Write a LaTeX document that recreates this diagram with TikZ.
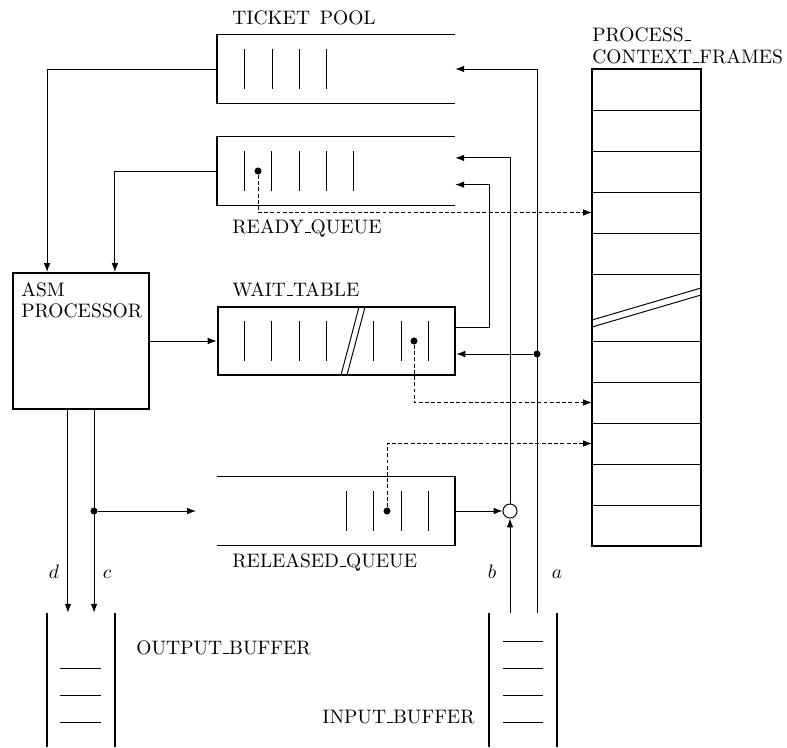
\documentclass[tikz,border=0pt]{standalone}
\usetikzlibrary{positioning,arrows.meta,calc}
\newcommand{\usc}{\leavevmode\kern.06em\vbox{\hrule width.3em}}
\tikzset{
  queue/.style ={minimum width=122pt, minimum height=35pt, inner sep=0pt},
  wall/.style  ={draw=black, line width=1pt},
  bar/.style   ={draw=black, line width=.5pt},
  proc/.style  ={draw=black, line width=1pt, minimum width=69.8pt, minimum height=69.8pt, inner sep=0pt},
  stack/.style ={minimum width=56pt, minimum height=244.7pt, inner sep=0pt},
  buf/.style   ={minimum width=34.9pt, minimum height=68.7pt, inner sep=0pt},
  dot/.style   ={circle, fill=black, inner sep=0pt, minimum size=3.6pt},
  merge/.style ={circle, draw=black, line width=.5pt, fill=white, inner sep=0pt, minimum size=7.2pt},
  ln/.style    ={draw=black, line width=.5pt, -{Latex[length=1.6mm,width=1.2mm]}},
  lnd/.style   ={ln, dash pattern=on 2pt off 1.2pt},
  tag/.style   ={inner sep=0pt, anchor=base west},
}

\begin{document}
\begin{tikzpicture}[x=0.513pt, y=-0.513pt]
  \useasboundingbox (0,0) rectangle (787,747);
  \node[queue] (pool) at (336,69) {};
  \node[queue] (ready) at (336,171) {};
  \node[queue,wall] (wait) at (336.5,341) {};
  \node[queue] (released) at (336,511) {};
  \draw[wall] (pool.north east) -- (pool.north west) -- (pool.south west) -- (pool.south east);
  \draw[wall] (ready.north east) -- (ready.north west) -- (ready.south west) -- (ready.south east);
  \draw[wall] (released.north west) -- (released.north east) -- (released.south east) -- (released.south west);
  \foreach \x in {244,272,299,326} \draw[bar] (\x,49) -- (\x,89);
  \foreach \x in {244,271,299,326,353} \draw[bar] (\x,151) -- (\x,191);
  \foreach \x in {244,271,299,326,373,401,428} \draw[bar] (\x,321) -- (\x,361);
  \foreach \x in {346,373,401,428} \draw[bar] (\x,491) -- (\x,531);
  \draw[bar] (341,375) -- (359,307) (347,375) -- (365,307);
  \node[tag] (poolLbl) at (232,25) {TICKET\enskip POOL};
  \node[tag] (readyLbl) at (232,233) {READY\usc QUEUE};
  \node[tag] (waitLbl) at (232,296) {WAIT\usc TABLE};
  \node[tag] (relLbl) at (232,567) {RELEASED\usc QUEUE};

  \node[proc] (asm) at (81,341) {};
  \node[tag] (asmLbl) at (21,296) {ASM};
  \node[tag] (asmLbl2) at (21,317) {PROCESSOR};

  \node[stack,wall] (frames) at (646.5,307.5) {};
  \foreach \y in {110,151,192,233,274,341,382,423,464,505} \draw[bar] (592,\y) -- (701,\y);
  \foreach \y [count=\i] in {69,110,151,192,233,341,382,423,464,505} \coordinate (slot\i) at (592,\y+20.5);
  \draw[bar] (592,320) -- (701,288) (592,327) -- (701,295);
  \node[tag] (framesLbl) at (592,41) {PROCESS\usc};
  \node[tag] (framesLbl2) at (592,63) {CONTEXT\usc FRAMES};

  \node[buf] (outbuf) at (81,680) {};
  \node[buf] (inbuf) at (523,680) {};
  \draw[wall] (outbuf.north west) -- (outbuf.south west) (outbuf.north east) -- (outbuf.south east);
  \draw[wall] (inbuf.north west) -- (inbuf.south west) (inbuf.north east) -- (inbuf.south east);
  \foreach \y in {668,695,722} \draw[bar] (60,\y) -- (101,\y);
  \foreach \y in {641,668,695,722} \draw[bar] (503,\y) -- (543,\y);
  \node[tag] (outLbl) at (136,654) {OUTPUT\usc BUFFER};
  \node[tag, anchor=base east] (inLbl) at (475,723) {INPUT\usc BUFFER};

  \node[dot] (rd) at (258,171) {};
  \node[dot] (wd) at (414,341) {};
  \node[dot] (qd) at (387,511) {};
  \node[merge] (mg) at (510,511) {};
  \node[dot] (ja) at (537,354) {};
  \node[dot] (jc) at (94,511) {};
  \coordinate (ain) at (537,613);
  \coordinate (bin) at (510,613);

  \draw[ln] (pool.west) -| ([xshift=-17.4pt]asm.north);
  \draw[ln] (ready.west) -| ([xshift=17.4pt]asm.north);
  \draw[ln] (asm) -- (wait);
  \draw[ln] ([xshift=-6.7pt]asm.south) -- ([xshift=-6.7pt]outbuf.north);
  \draw[ln] ([xshift=6.7pt]asm.south) -- ([xshift=6.7pt]outbuf.north);
  \draw[ln] (jc) -- ++(102,0);
  \draw[ln] (released) -- (mg);
  \draw[ln] (bin) -- (mg);
  \draw[ln] (mg) |- ([yshift=6.7pt]ready.east);
  \draw[ln] ([yshift=7pt]wait.east) -- ++(33,0) |- ([yshift=-7pt]ready.east);
  \draw[ln] (ain) |- (pool.east);
  \draw[ln] (ja) -- (wait.east |- ja);
  \draw[lnd] (rd) |- (slot4);
  \draw[lnd] (wd) |- (slot7);
  \draw[lnd] (qd) |- (slot8);

  \node[tag, anchor=base] (dLbl) at (54,578) {$d$};
  \node[tag, anchor=base] (cLbl) at (107,578) {$c$};
  \node[tag, anchor=base] (bLbl) at (492,578) {$b$};
  \node[tag, anchor=base] (aLbl) at (557,578) {$a$};
\end{tikzpicture}
\end{document}
